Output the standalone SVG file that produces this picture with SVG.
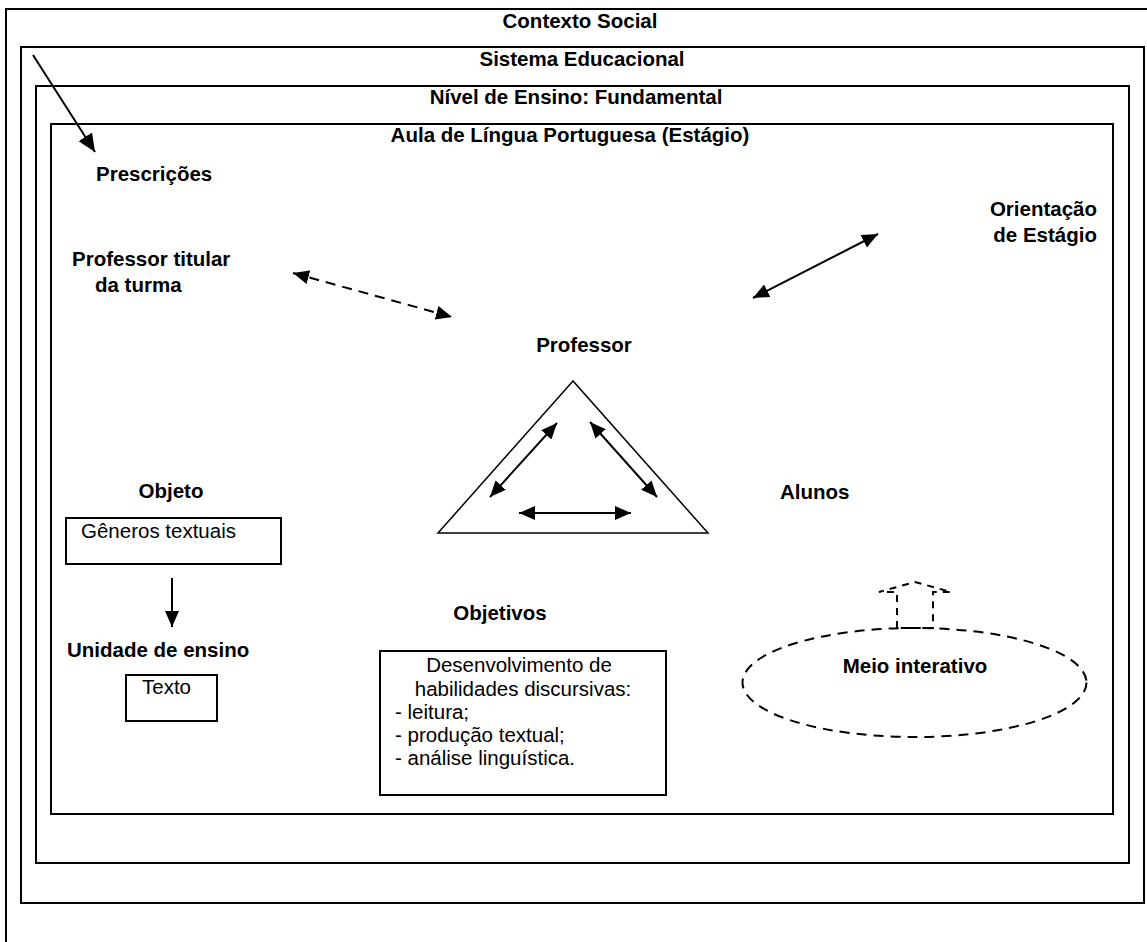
<svg xmlns="http://www.w3.org/2000/svg" width="1147" height="942" viewBox="0 0 1147 942">
<style>
text{font-family:"Liberation Sans",Arial,sans-serif;font-size:20.5px;fill:#000}
.b{font-weight:bold}
.frame{fill:none;stroke:#000;stroke-width:2}
.thin{fill:none;stroke:#000;stroke-width:1.5}
.con{fill:none;stroke:#000;stroke-width:2}
.dash{stroke-dasharray:10,7}
</style>
<defs>
<marker id="ah" viewBox="0 0 16 14" refX="16" refY="7" markerWidth="16" markerHeight="14" markerUnits="userSpaceOnUse" orient="auto-start-reverse">
<path d="M0,0 L16,7 L0,14 z" fill="#000"/>
</marker>
<marker id="ahL" viewBox="0 0 18 16" refX="18" refY="8" markerWidth="18" markerHeight="16" markerUnits="userSpaceOnUse" orient="auto">
<path d="M0,0 L18,8 L0,16 z" fill="#000"/>
</marker>
</defs>
<rect width="1147" height="942" fill="#fff"/>
<g id="contexto-social">
<path class="frame" d="M6,942 V9 H1147"/>
<text class="b" x="580" y="28" text-anchor="middle">Contexto Social</text>
</g>
<g id="sistema-educacional">
<rect class="frame" x="21" y="47" width="1123" height="856"/>
<text class="b" x="582" y="66" text-anchor="middle">Sistema Educacional</text>
</g>
<g id="nivel-ensino">
<rect class="frame" x="36" y="86" width="1093" height="777"/>
<text class="b" x="576" y="104" text-anchor="middle">Nível de Ensino: Fundamental</text>
</g>
<g id="aula">
<rect class="frame" x="51" y="124" width="1062" height="690"/>
<text class="b" x="570" y="142" text-anchor="middle">Aula de Língua Portuguesa (Estágio)</text>
</g>
<g id="prescricoes">
<text class="b" x="96" y="181">Prescrições</text>
</g>
<g id="professor-titular">
<text class="b" x="72" y="266">Professor titular</text>
<text class="b" x="95" y="292">da turma</text>
</g>
<g id="orientacao">
<text class="b" x="1097" y="216" text-anchor="end">Orientação</text>
<text class="b" x="1097" y="242" text-anchor="end">de Estágio</text>
</g>
<g id="professor">
<text class="b" x="584" y="352" text-anchor="middle">Professor</text>
</g>
<g id="triangulo">
<polygon class="thin" points="573,381 438,533 708,533"/>
</g>
<g id="objeto">
<text class="b" x="171" y="498" text-anchor="middle">Objeto</text>
</g>
<g id="generos">
<rect class="frame" x="66" y="518" width="215" height="46"/>
<text x="81" y="538">Gêneros textuais</text>
</g>
<g id="unidade">
<text class="b" x="67" y="657">Unidade de ensino</text>
</g>
<g id="texto">
<rect class="frame" x="126" y="675" width="91" height="46"/>
<text x="142" y="694">Texto</text>
</g>
<g id="objetivos">
<text class="b" x="500" y="620" text-anchor="middle">Objetivos</text>
</g>
<g id="desenvolvimento">
<rect class="frame" x="380" y="651" width="286" height="144"/>
<text x="519" y="672" text-anchor="middle">Desenvolvimento de</text>
<text x="523" y="696" text-anchor="middle">habilidades discursivas:</text>
<text x="395" y="719">- leitura;</text>
<text x="395" y="742">- produção textual;</text>
<text x="395" y="765">- análise linguística.</text>
</g>
<g id="alunos">
<text class="b" x="780" y="499">Alunos</text>
</g>
<g id="meio-interativo">
<ellipse class="con dash" cx="914.5" cy="682.5" rx="172" ry="54.5"/>
<text class="b" x="915" y="673" text-anchor="middle">Meio interativo</text>
</g>
<g id="connectors">
<line class="con" x1="33" y1="55" x2="95" y2="152" marker-end="url(#ahL)"/>
<line class="con dash" x1="293" y1="273" x2="452" y2="317" marker-start="url(#ah)" marker-end="url(#ah)"/>
<line class="con" x1="753" y1="298" x2="878" y2="234" marker-start="url(#ah)" marker-end="url(#ah)"/>
<line class="con" x1="490" y1="497" x2="557" y2="423" marker-start="url(#ah)" marker-end="url(#ah)"/>
<line class="con" x1="590" y1="422" x2="657" y2="497" marker-start="url(#ah)" marker-end="url(#ah)"/>
<line class="con" x1="519" y1="513" x2="631" y2="513" marker-start="url(#ah)" marker-end="url(#ah)"/>
<line class="con" x1="172" y1="578" x2="172" y2="627" marker-end="url(#ah)"/>
<polygon class="con" stroke-dasharray="7,6" points="897,628 897,592 879,592 915,582 951,592 933,592 933,628"/>
</g>
</svg>
